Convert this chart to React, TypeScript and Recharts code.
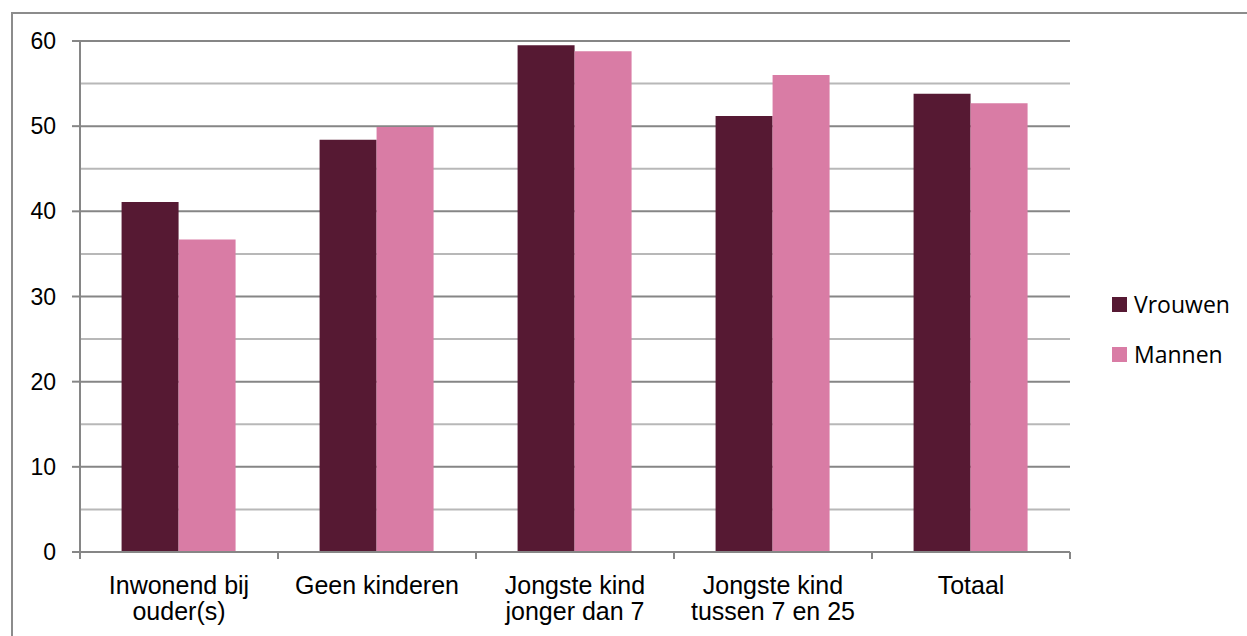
import { BarChart, Bar, XAxis, YAxis, CartesianGrid } from "recharts";

const categories = [
  "Inwonend bij ouder(s)",
  "Geen kinderen",
  "Jongste kind jonger dan 7",
  "Jongste kind tussen 7 en 25",
  "Totaal",
];
const labelLines = [
  ["Inwonend bij", "ouder(s)"],
  ["Geen kinderen"],
  ["Jongste kind", "jonger dan 7"],
  ["Jongste kind", "tussen 7 en 25"],
  ["Totaal"],
];
const vrouwen = [41.1, 48.4, 59.5, 51.2, 53.8];
const mannen = [36.7, 49.9, 58.8, 56.0, 52.7];
const yTicks = [0, 10, 20, 30, 40, 50, 60];
const minorTicks = [5, 15, 25, 35, 45, 55];

const data = categories.map((c, i) => ({
  name: c,
  Vrouwen: vrouwen[i],
  Mannen: mannen[i],
}));

const VR = "#561933";
const MA = "#D97CA5";
const AXIS = "#868686";
const yMax = yTicks[yTicks.length - 1];

function CategoryTick(props: any) {
  const { x, y, payload, index } = props;
  const half = payload?.offset || 99;
  const lines = labelLines[index] ?? [payload.value];
  const isLast = index === categories.length - 1;
  return (
    <g>
      <line x1={x - half} x2={x - half} y1={y - 8} y2={y - 1} stroke={AXIS} strokeWidth={2} />
      {isLast && (
        <line x1={x + half} x2={x + half} y1={y - 8} y2={y - 1} stroke={AXIS} strokeWidth={2} />
      )}
      {lines.map((l: string, k: number) => (
        <text
          key={k}
          x={x}
          y={y + 34 + k * 26}
          textAnchor="middle"
          fontFamily="'Liberation Sans', Arial, sans-serif"
          fontSize={25}
          fill="#000"
        >
          {l}
        </text>
      ))}
    </g>
  );
}

function LegendBox() {
  const items = [
    { label: "Vrouwen", color: VR },
    { label: "Mannen", color: MA },
  ];
  return (
    <div
      style={{
        position: "absolute",
        left: 1112,
        top: 279,
        fontFamily: "'Open Sans', 'Noto Sans', sans-serif",
        fontSize: 23,
      }}
    >
      {items.map((it) => (
        <div key={it.label} style={{ display: "flex", alignItems: "center", height: 50 }}>
          <span
            style={{
              display: "inline-block",
              width: 15,
              height: 15,
              background: it.color,
              marginRight: 7,
            }}
          />
          <span style={{ color: "#000" }}>{it.label}</span>
        </div>
      ))}
    </div>
  );
}

export default function App() {
  return (
    <div
      style={{
        position: "absolute",
        left: 0,
        top: 0,
        width: 1247,
        height: 636,
        background: "#fff",
        overflow: "hidden",
      }}
    >
      <div
        style={{
          position: "absolute",
          left: 11,
          top: 12,
          width: 1260,
          height: 660,
          border: "2px solid #8c8c8c",
          boxSizing: "border-box",
        }}
      />
      <BarChart
        width={1247}
        height={636}
        data={data}
        margin={{ top: 41, right: 177, left: 20, bottom: 24 }}
        barCategoryGap="21%"
        barGap={0}
      >
        <CartesianGrid
          vertical={false}
          stroke="#b8b8b8"
          strokeWidth={2}
          horizontalCoordinatesGenerator={({ offset }: any) =>
            minorTicks.map((v) => offset.top + offset.height * (1 - v / yMax))
          }
        />
        <CartesianGrid vertical={false} stroke={AXIS} strokeWidth={2} />
        <XAxis
          dataKey="name"
          height={60}
          axisLine={{ stroke: AXIS, strokeWidth: 2 }}
          tickLine={false}
          tick={<CategoryTick />}
          interval={0}
        />
        <YAxis
          width={60}
          domain={[0, yMax]}
          ticks={yTicks}
          axisLine={{ stroke: AXIS, strokeWidth: 2 }}
          tickLine={{ stroke: AXIS, strokeWidth: 2 }}
          tickSize={8}
          tick={{ fill: "#000", fontSize: 23, fontFamily: "'Liberation Sans', Arial, sans-serif" }}
          tickMargin={16}
        />
        <Bar dataKey="Vrouwen" fill={VR} isAnimationActive={false} />
        <Bar dataKey="Mannen" fill={MA} isAnimationActive={false} />
      </BarChart>
      <LegendBox />
    </div>
  );
}
